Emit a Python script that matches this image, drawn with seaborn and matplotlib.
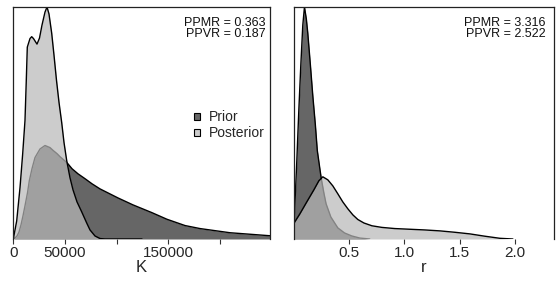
import matplotlib
matplotlib.use("Agg")
import matplotlib.pyplot as plt
from matplotlib.patches import Patch
import seaborn as sns
import numpy as np

# ---- data (relative density, peak = 1) ----
K_prior_x = [680, 3580, 5510, 7450, 9380, 11310, 13730, 15470, 18080, 20980, 25820,
             30660, 35490, 38680, 42260, 45160, 48540, 51930, 56760, 62560, 69330,
             76100, 83840, 101240, 115750, 133830, 148630, 166040, 180530, 209540, 248220]
K_prior_y = [0.0, 0.013, 0.030, 0.061, 0.100, 0.143, 0.199, 0.251, 0.303, 0.351, 0.388,
             0.403, 0.394, 0.381, 0.368, 0.355, 0.342, 0.329, 0.303, 0.281, 0.260,
             0.238, 0.216, 0.177, 0.147, 0.114, 0.085, 0.058, 0.045, 0.027, 0.014]

K_post_x = [0, 3290, 6480, 9090, 11310, 12470, 13540, 16150, 17790, 19530, 22920,
            25340, 27750, 30650, 32590, 34520, 37130, 39360, 41770, 44190, 46800,
            49030, 51640, 54830, 57730, 61600, 66140, 70980, 74170, 79000, 83840,
            88670, 124450]
K_post_y = [0.0, 0.078, 0.221, 0.368, 0.511, 0.671, 0.827, 0.864, 0.872, 0.864, 0.840,
            0.866, 0.922, 0.978, 1.0, 0.970, 0.887, 0.792, 0.684, 0.589, 0.502,
            0.416, 0.338, 0.264, 0.212, 0.160, 0.117, 0.069, 0.039, 0.013, 0.002,
            0.0, 0.0]

r_prior_x = [0.000, 0.012, 0.030, 0.048, 0.066, 0.084, 0.099, 0.116, 0.129, 0.152,
             0.174, 0.197, 0.215, 0.238, 0.251, 0.274, 0.294, 0.337, 0.400, 0.461,
             0.527, 0.599, 0.689]
r_prior_y = [0.039, 0.143, 0.338, 0.554, 0.749, 0.922, 1.000, 0.948, 0.887, 0.753,
             0.619, 0.494, 0.381, 0.303, 0.260, 0.199, 0.152, 0.095, 0.048, 0.026,
             0.013, 0.004, 0.000]

r_post_x = [0.000, 0.057, 0.120, 0.184, 0.229, 0.265, 0.310, 0.355, 0.400, 0.445,
            0.491, 0.536, 0.581, 0.636, 0.708, 0.798, 0.915, 1.051, 1.186, 1.322,
            1.457, 1.593, 1.728, 1.864, 1.981]
r_post_y = [0.065, 0.108, 0.160, 0.212, 0.251, 0.268, 0.255, 0.229, 0.195, 0.160,
            0.130, 0.104, 0.084, 0.069, 0.057, 0.050, 0.045, 0.042, 0.039, 0.035,
            0.029, 0.022, 0.012, 0.003, 0.000]

K_ticks = [0, 50000, 100000, 150000, 200000]
K_ticklabels = ["0", "50000", "", "150000", ""]
r_ticks = [0.5, 1.0, 1.5, 2.0]
r_ticklabels = ["0.5", "1.0", "1.5", "2.0"]

legend_labels = ["Prior", "Posterior"]
stats_K = ["PPMR = 0.363", "PPVR = 0.187"]
stats_r = ["PPMR = 3.316", "PPVR = 2.522"]

# ---- style ----
sns.set_style("white")
plt.rcParams['font.family'] = ['Liberation Sans', 'DejaVu Sans']

PRIOR_FILL = "#666666"
POST_FILL = (184/255, 184/255, 184/255, 0.712)

W, H = 557, 282
fig = plt.figure(figsize=(W/100, H/100), dpi=100)

def ax_rect(x0, x1, y0, y1):
    return [x0 / W, (H - y1) / H, (x1 - x0) / W, (y1 - y0) / H]

axK = fig.add_axes(ax_rect(12.7, 270, 7, 239))
axr = fig.add_axes(ax_rect(293.5, 554.3, 7, 239))

def panel(ax, px, py, qx, qy, xlim, ticks, ticklabels, xlabel, stats, tx):
    ax.fill_between(px, 0, py, color=PRIOR_FILL, linewidth=0, zorder=1)
    sns.lineplot(x=px, y=py, ax=ax, color="black", linewidth=1.0, sort=False,
                 estimator=None, zorder=2)
    ax.fill_between(qx, 0, qy, color=POST_FILL, linewidth=0, zorder=3)
    sns.lineplot(x=qx, y=qy, ax=ax, color="black", linewidth=1.0, sort=False,
                 estimator=None, zorder=4)
    ax.set_xlim(*xlim)
    ax.set_ylim(0, 1.0)
    ax.set_yticks([])
    ax.set_xticks(ticks)
    ax.set_xticklabels(ticklabels)
    ax.tick_params(axis="x", direction="out", length=3.8, width=0.8, pad=1.2,
                   labelsize=11, bottom=True, color="#333333")
    for s in ["left", "top", "right"]:
        ax.spines[s].set_visible(True)
        ax.spines[s].set_color("#222222")
        ax.spines[s].set_linewidth(0.9)
        ax.spines[s].set_zorder(6)
    ax.spines["bottom"].set_visible(False)
    ax.set_xlabel(xlabel, fontsize=12, labelpad=0)
    ax.text(tx, 0.933, stats[0], transform=ax.transAxes, ha="right", va="center",
            fontsize=9, color="#111111")
    ax.text(tx, 0.884, stats[1], transform=ax.transAxes, ha="right", va="center",
            fontsize=9, color="#111111")

panel(axK, K_prior_x, K_prior_y, K_post_x, K_post_y, (-580, 248230),
      K_ticks, K_ticklabels, "K", stats_K, 0.983)
panel(axr, r_prior_x, r_prior_y, r_post_x, r_post_y, (0, 2.355),
      r_ticks, r_ticklabels, "r", stats_r, 0.968)

handles = [Patch(facecolor=PRIOR_FILL, edgecolor="black", linewidth=0.8),
           Patch(facecolor="#cccccc", edgecolor="black", linewidth=0.8)]
axK.legend(handles, legend_labels, loc="center left", bbox_to_anchor=(0.705, 0.49),
           frameon=False, fontsize=10, handlelength=0.4, handleheight=0.4,
           handletextpad=0.7, labelspacing=0.15, borderpad=0, borderaxespad=0)

fig.savefig("out.png", dpi=100)
